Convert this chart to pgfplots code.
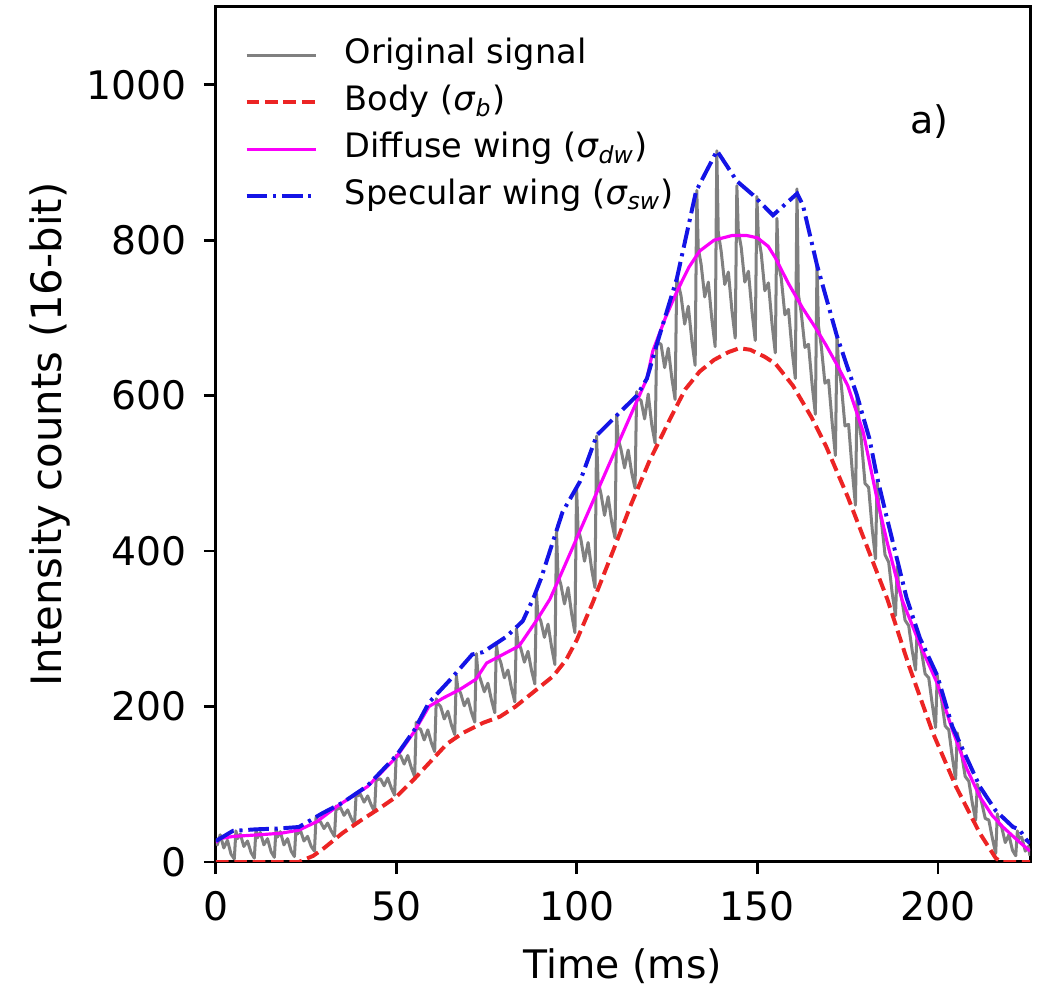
\documentclass[border=0pt]{standalone}
\usepackage{fontspec}
\setmainfont{DejaVu Sans}
\usepackage{pgfplots}
\pgfplotsset{compat=1.18}
\usepackage{pgfplotstable}

\definecolor{sigGray}{RGB}{128,128,128}
\definecolor{bodyRed}{RGB}{236,36,36}
\definecolor{diffMag}{RGB}{250,0,250}
\definecolor{specBlue}{RGB}{20,20,230}

% original signal, spikes every ~5.55 ms
\pgfplotstableread{
t v
0 30
0.4 22
1.2 35
2.2 18
3.2 28
4.2 10
5.1 4
5.55 40
5.95 30
6.75 36
7.75 20
8.75 27
9.75 12
10.65 5
11.1 42
11.5 31
12.3 38
13.3 22
14.3 30
15.3 13
16.2 6
16.65 43
17.05 32
17.85 39
18.85 22
19.85 30
20.85 14
21.75 7
22.2 45
22.6 36
23.4 41
24.4 27
25.4 33
26.4 20
27.3 14
27.75 58
28.15 52
28.95 52
29.95 43
30.95 50
31.95 40
32.85 33
33.3 72
33.7 68
34.5 70
35.5 60
36.5 67
37.5 56
38.4 48
38.85 88
39.25 85
40.05 87
41.05 77
42.05 85
43.05 73
43.95 65
44.4 108
44.8 106
45.6 107
46.6 98
47.6 108
48.6 95
49.5 86
49.95 137
50.35 136
51.15 137
52.15 126
53.15 137
54.15 121
55.05 110
55.5 180
55.9 172
56.7 171
57.7 157
58.7 170
59.7 153
60.6 142
61.05 210
61.45 204
62.25 200
63.25 184
64.25 194
65.25 176
66.15 164
66.6 240
67 224
67.8 217
68.8 201
69.8 210
70.8 192
71.7 180
72.15 268
72.55 245
73.35 234
74.35 219
75.35 230
76.35 208
77.25 192
77.7 280
78.1 266
78.9 257
79.9 237
80.9 247
81.9 223
82.8 206
83.25 300
83.65 283
84.45 275
85.45 257
86.45 271
87.45 246
88.35 229
88.8 345
89.2 318
90 310
91 289
92 306
93 276
93.9 254
94.35 425
94.75 370
95.55 357
96.55 332
97.55 353
98.55 319
99.45 295
99.9 482
100.3 430
101.1 415
102.1 387
103.1 411
104.1 376
105 353
105.45 548
105.85 490
106.65 474
107.65 446
108.65 470
109.65 437
110.55 417
111 575
111.4 545
112.2 531
113.2 507
114.2 530
115.2 500
116.1 481
116.55 605
116.95 596
117.75 594
118.75 570
119.75 602
120.75 562
121.65 539
122.1 670
122.5 668
123.3 666
124.3 636
125.3 661
126.3 622
127.2 595
127.65 752
128.05 745
128.85 728
129.85 692
130.85 715
131.85 670
132.75 639
133.2 864
133.6 790
134.4 769
135.4 727
136.4 746
137.4 697
138.3 663
138.75 915
139.15 810
139.95 786
140.95 743
141.95 759
142.95 709
143.85 674
144.3 870
144.7 812
145.5 791
146.5 746
147.5 760
148.5 708
149.4 671
149.85 856
150.25 805
151.05 783
152.05 735
153.05 745
154.05 692
154.95 655
155.4 828
155.8 770
156.6 751
157.6 704
158.6 711
159.6 658
160.5 622
160.95 866
161.35 730
162.15 706
163.15 662
164.15 666
165.15 614
166.05 576
166.5 768
166.9 690
167.7 663
168.7 616
169.7 620
170.7 565
171.6 523
172.05 677
172.45 640
173.25 613
174.25 561
175.25 563
176.25 504
177.15 459
177.6 600
178 575
178.8 542
179.8 487
180.8 482
181.8 428
182.7 390
183.15 490
183.55 462
184.35 438
185.35 395
186.35 386
187.35 345
188.25 317
188.7 380
189.1 356
189.9 341
190.9 311
191.9 304
192.9 271
193.8 247
194.25 300
194.65 288
195.45 271
196.45 242
197.45 237
198.45 202
199.35 173
199.8 240
200.2 226
201 209
202 175
203 170
204 134
204.9 107
205.35 166
205.75 156
206.55 139
207.55 110
208.55 104
209.55 75
210.45 54
210.9 100
211.3 92
212.1 77
213.1 56
214.1 54
215.1 30
216 11
216.45 62
216.85 50
217.65 45
218.65 25
219.65 35
220.65 15
221.55 8
222 40
222.4 30
223.2 32
224.2 14
225 20
225.5 8
}\signal

\begin{document}
\begin{tikzpicture}
\begin{axis}[
  scale only axis,
  width=256.8pt, height=269.7pt,
  xmin=0, xmax=225.5, ymin=0, ymax=1100,
  xtick={0,50,100,150,200},
  ytick={0,200,400,600,800,1000},
  scaled ticks=false,
  tick align=outside,
  xtick pos=left, ytick pos=left,
  major tick length=3.8pt,
  tick style={black, line width=0.9pt},
  axis line style={line width=0.95pt},
  /pgf/number format/assume math mode=true,
  /pgf/number format/1000 sep={},
  ticklabel style={font=\fontsize{12.4}{14}\selectfont},
  yticklabel style={xshift=-2pt},
  xticklabel style={yshift=-2pt},
  xlabel={Time (ms)},
  ylabel={Intensity counts (16-bit)},
  xlabel style={font=\fontsize{12.4}{15}\selectfont, at={(axis description cs:0.5,-0.1357)}, anchor=base},
  ylabel style={font=\fontsize{13.2}{16}\selectfont, at={(axis description cs:-0.1893,0.5)}, anchor=base},
  legend cell align=left,
  legend image code/.code={\draw[#1] (0pt,0pt) -- (22pt,0pt);},
  legend style={draw=none, fill=none, at={(0,1)}, anchor=north west,
    xshift=9.1pt, yshift=-10pt, inner sep=0pt, outer sep=0pt,
    row sep=4.3pt, column sep=8.3pt,
    font=\fontsize{10.6}{12}\selectfont,
    nodes={inner sep=0pt, text height=7.9pt, text depth=2.6pt}},
]
\addplot[sigGray, line width=0.95pt, line join=round] table[x=t, y=v]{\signal};
\addlegendentry{Original signal}

\addplot[bodyRed, line width=1.25pt, dash pattern=on 4pt off 1.8pt] coordinates {
(0,0) (23,0) (27,8) (30,18) (35,37) (40,53) (45,68) (50,84) (55,107) (60,132)
(64,152) (68.4,166) (74,179) (78.7,187) (83,200) (87.8,218) (93.4,239) (97,260)
(100,286) (104.4,334) (110,400) (115,460) (120,515) (125.8,570) (130,608)
(134,631) (138,646) (142,656) (145,661) (148,659) (152,650) (155,641)
(159.8,613) (165,572) (169,535) (175,470) (180,410) (186,338) (192,252)
(198.6,166) (205,97) (211.6,37) (216,5) (217.5,0) (225.5,0)
};
\addlegendentry{Body (\textit{σ}\textsubscript{\textit{b}})}

\addplot[diffMag, line width=1pt] coordinates {
(0,25) (1,30) (5,33) (12,35) (18,37) (23,41) (28,52) (34,73) (42,97) (50,135)
(55,168) (59,200) (63,211) (67.6,222) (72,235) (75,256) (78.7,265) (84,278)
(89,312) (92.5,338) (95,364) (100,417) (105,470) (110,523) (115,576)
(119.4,622) (121,657) (124.5,700) (127.7,734) (131,765) (134,786) (138,800)
(143,806) (147,806) (150,803) (153,792) (155,777) (158.5,745) (162.6,712)
(166,688) (169,665) (172,640) (175,613) (179.3,553) (183,470) (186,410)
(190,338) (195,280) (199.7,231) (204,170) (208,120) (211.6,84) (215,60)
(218,45) (222,28) (225.5,14)
};
\addlegendentry{Diffuse wing (\textit{σ}\textsubscript{\textit{dw}})}

\addplot[specBlue, line width=1.25pt, dash pattern=on 6.5pt off 1.8pt on 1pt off 1.8pt] coordinates {
(0,27) (4.7,40) (11,42) (17,43) (23,45) (29.6,63) (35,76) (42,98) (50,137)
(55,170) (59,205) (65,235) (71,267) (74,270) (80.5,290) (85,310) (88,340)
(90,364) (96,450) (100.8,489) (105.5,549) (112,579) (116.6,600) (119.4,622)
(122,664) (127.7,751) (133,863) (138.8,915) (144.3,876) (148.8,858)
(154.3,832) (161,860) (162.6,845) (166.5,768) (172,677) (177.6,600)
(181,545) (183.15,495) (186,440) (191.3,340) (195,288) (199.8,240)
(204,174) (211.6,97) (216,66) (220.8,45) (222.5,42) (224.6,28) (225.5,24)
};
\addlegendentry{Specular wing (\textit{σ}\textsubscript{\textit{sw}})}

\node[anchor=base west, inner sep=0pt, font=\fontsize{12}{14}\selectfont] at (axis cs:192.2,937) {a)};
\end{axis}
\pgfresetboundingbox
\path ([xshift=-68.1pt,yshift=-39.1pt]current axis.south west) rectangle ([xshift=4.1pt,yshift=2.2pt]current axis.north east);
\end{tikzpicture}
\end{document}
